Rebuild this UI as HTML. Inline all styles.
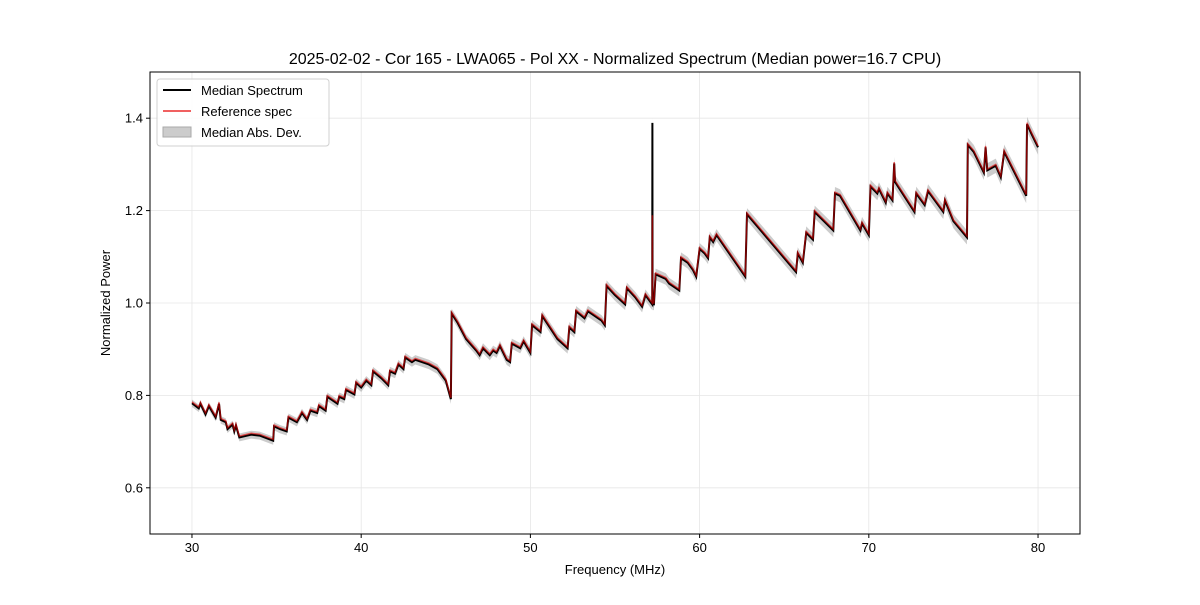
<!DOCTYPE html>
<html><head><meta charset="utf-8"><style>
body{margin:0;background:#fff;font-family:"Liberation Sans","DejaVu Sans",sans-serif}
svg text{font-family:"Liberation Sans","DejaVu Sans",sans-serif;fill:#000}
</style></head><body>
<svg id="c" width="1200" height="600"></svg>
<script>
const freqs=[30.0,30.4,30.5,30.8,31.0,31.4,31.6,31.7,32.0,32.1,32.4,32.5,32.6,32.8,33.5,34.0,34.8,34.85,35.2,35.6,35.7,36.2,36.5,36.8,37.0,37.4,37.5,37.9,38.0,38.6,38.7,39.0,39.1,39.6,39.7,40.0,40.3,40.6,40.7,41.2,41.6,41.7,42.0,42.2,42.5,42.6,43.0,43.2,44.0,44.5,45.0,45.3,45.35,45.7,46.2,46.8,47.0,47.2,47.6,47.8,48.0,48.2,48.6,48.8,48.9,49.4,49.6,50.0,50.1,50.6,50.7,51.6,52.2,52.3,52.6,52.7,53.2,53.4,54.2,54.4,54.5,55.0,55.6,55.7,56.2,56.6,56.8,57.0,57.2,57.21,57.22,57.3,57.4,58.0,58.2,58.6,58.8,58.9,59.3,59.6,59.8,60.0,60.3,60.5,60.6,60.8,61.0,62.7,62.8,65.7,65.8,66.1,66.3,66.7,66.8,67.9,68.0,68.3,69.5,69.6,70.0,70.1,70.5,70.6,71.0,71.1,71.4,71.5,71.55,72.7,72.8,73.3,73.5,74.4,74.5,75.0,75.8,75.85,76.2,76.8,76.9,77.0,77.5,77.8,78.0,79.3,79.35,79.6,80.0];
const refVals=[0.786,0.775,0.785,0.762,0.78,0.755,0.785,0.75,0.745,0.73,0.74,0.725,0.738,0.712,0.718,0.716,0.705,0.736,0.73,0.725,0.755,0.745,0.765,0.75,0.77,0.765,0.78,0.77,0.80,0.785,0.80,0.795,0.815,0.805,0.83,0.82,0.835,0.825,0.855,0.84,0.825,0.855,0.85,0.87,0.86,0.885,0.875,0.88,0.87,0.86,0.835,0.795,0.98,0.96,0.925,0.90,0.89,0.905,0.89,0.90,0.895,0.91,0.88,0.875,0.915,0.905,0.92,0.895,0.955,0.94,0.975,0.925,0.905,0.95,0.94,0.985,0.97,0.985,0.965,0.955,1.04,1.02,1.0,1.035,1.015,0.995,1.02,1.01,1.0,1.19,1.0,1.0,1.065,1.055,1.045,1.035,1.03,1.10,1.09,1.075,1.06,1.12,1.11,1.10,1.145,1.135,1.15,1.06,1.195,1.07,1.11,1.09,1.155,1.14,1.20,1.16,1.24,1.235,1.16,1.175,1.15,1.255,1.24,1.25,1.22,1.24,1.225,1.305,1.265,1.20,1.24,1.215,1.245,1.20,1.225,1.18,1.145,1.345,1.33,1.285,1.34,1.29,1.30,1.275,1.33,1.235,1.39,1.37,1.34];
const medVals=[0.783,0.772,0.782,0.759,0.777,0.752,0.782,0.747,0.742,0.727,0.737,0.722,0.735,0.709,0.715,0.713,0.702,0.733,0.727,0.722,0.752,0.742,0.762,0.747,0.767,0.762,0.777,0.767,0.797,0.782,0.797,0.792,0.812,0.802,0.827,0.817,0.832,0.822,0.852,0.837,0.822,0.852,0.847,0.867,0.857,0.882,0.872,0.877,0.867,0.857,0.832,0.792,0.977,0.957,0.922,0.897,0.887,0.902,0.887,0.897,0.892,0.907,0.877,0.872,0.912,0.902,0.917,0.892,0.952,0.937,0.972,0.922,0.902,0.947,0.937,0.982,0.967,0.982,0.962,0.952,1.037,1.017,0.997,1.032,1.012,0.992,1.017,1.007,0.997,1.39,0.997,0.997,1.062,1.052,1.042,1.032,1.027,1.097,1.087,1.072,1.057,1.117,1.107,1.097,1.142,1.132,1.147,1.057,1.192,1.067,1.107,1.087,1.152,1.137,1.197,1.157,1.237,1.232,1.157,1.172,1.147,1.252,1.237,1.247,1.217,1.237,1.222,1.302,1.262,1.197,1.237,1.212,1.242,1.197,1.222,1.177,1.142,1.342,1.327,1.282,1.337,1.287,1.297,1.272,1.327,1.232,1.387,1.367,1.337];
const madVals=freqs.map((f,i)=>0.008+0.008*(f-30)/50);
const xTicks=[30,40,50,60,70,80];
const yTicks=[0.6,0.8,1.0,1.2,1.4];
const L=150,R=1080,T=72,B=534,X0=27.52,X1=82.48,Y0=0.5,Y1=1.5;
const sx=f=>L+(f-X0)/(X1-X0)*(R-L);
const sy=v=>B-(v-Y0)/(Y1-Y0)*(B-T);
const svg=document.getElementById('c');const NS='http://www.w3.org/2000/svg';
function mk(t,a,p){const e=document.createElementNS(NS,t);for(const k in a)e.setAttribute(k,a[k]);(p||svg).appendChild(e);return e;}
xTicks.forEach(t=>{const x=sx(t);
const g=mk('line',{x1:x,x2:x,y1:T,y2:B,stroke:'#e6e6e6','stroke-width':0.8});


mk('line',{x1:x,x2:x,y1:B,y2:B+4,stroke:'#000'});
const tx=mk('text',{x:x,y:B+18,'text-anchor':'middle','font-size':13});tx.textContent=t;

});
yTicks.forEach(t=>{const y=sy(t);
const g=mk('line',{x1:L,x2:R,y1:y,y2:y,stroke:'#e6e6e6','stroke-width':0.8});


mk('line',{x1:L-4,x2:L,y1:y,y2:y,stroke:'#000'});
const tx=mk('text',{x:L-7,y:y+4.5,'text-anchor':'end','font-size':13});tx.textContent=t.toFixed(1);

});
let up=freqs.map((f,i)=>sx(f)+','+sy(medVals[i]+madVals[i]));
let dn=freqs.map((f,i)=>sx(f)+','+sy(medVals[i]-madVals[i])).reverse();
const band=mk('polygon',{points:up.concat(dn).join(' '),fill:'#999',opacity:0.5});


const ml=mk('polyline',{points:freqs.map((f,i)=>sx(f)+','+sy(medVals[i])).join(' '),fill:'none',stroke:'#000','stroke-width':2});


const rl=mk('polyline',{points:freqs.map((f,i)=>sx(f)+','+sy(refVals[i])).join(' '),fill:'none',stroke:'#e00000','stroke-width':1.5,opacity:0.6});


const fr=mk('rect',{x:L,y:T,width:R-L,height:B-T,fill:'none',stroke:'#000','stroke-width':1});


const ti=mk('text',{x:615,y:64,'text-anchor':'middle','font-size':16});ti.textContent='2025-02-02 - Cor 165 - LWA065 - Pol XX - Normalized Spectrum (Median power=16.7 CPU)';


const xl=mk('text',{x:615,y:574,'text-anchor':'middle','font-size':13});xl.textContent='Frequency (MHz)';


const yl=mk('text',{x:110,y:303,'text-anchor':'middle','font-size':13,transform:'rotate(-90 110 303)'});yl.textContent='Normalized Power';


const lg=mk('g',{});


mk('rect',{x:157,y:79,width:172,height:67,rx:3,fill:'#fff',stroke:'#ccc',opacity:0.9},lg);
const items=[['Median Spectrum','line','#000'],['Reference spec','line','#f06060'],['Median Abs. Dev.','patch','#ccc']];
items.forEach((it,i)=>{const y=90+i*21;const e=mk('g',{},lg);


if(it[1]=='line')mk('line',{x1:163,x2:191,y1:y,y2:y,stroke:it[2],'stroke-width':2},e);
else mk('rect',{x:163,y:y-5,width:28,height:10,fill:'#ccc',stroke:'#aaa'},e);
const t=mk('text',{x:201,y:y+5,'font-size':13},e);t.textContent=it[0];});
</script>
</body></html>
